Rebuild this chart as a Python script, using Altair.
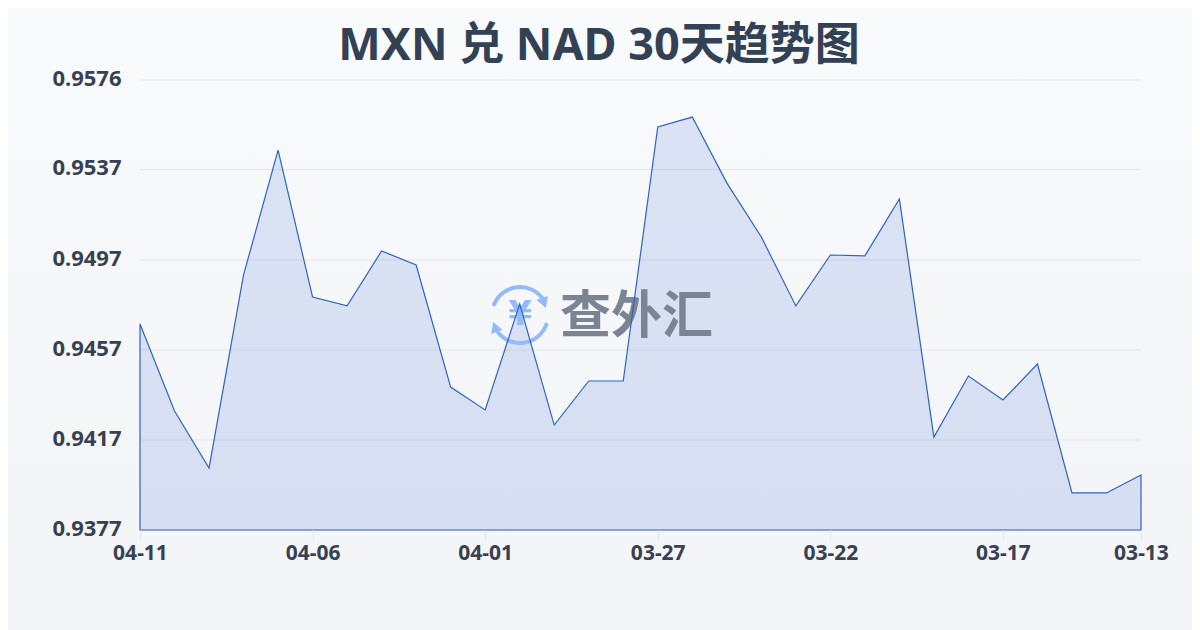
import altair as alt
import pandas as pd

dates = ["04-11","04-10","04-09","04-08","04-07","04-06","04-05","04-04","04-03","04-02",
         "04-01","03-31","03-30","03-29","03-28","03-27","03-26","03-25","03-24","03-23",
         "03-22","03-21","03-20","03-19","03-18","03-17","03-16","03-15","03-14","03-13"]
rates = [0.94684,0.94299,0.94047,0.94901,0.95453,0.94803,0.94764,0.95007,0.94945,0.94405,
         0.94304,0.94772,0.94237,0.94432,0.94432,0.95555,0.95599,0.95308,0.95069,0.94764,
         0.94989,0.94985,0.95237,0.94184,0.94454,0.94348,0.94507,0.93937,0.93937,0.94016]
y_ticks = [0.93773,0.94171,0.94569,0.94967,0.95367,0.95763]
x_ticks = ["04-11","04-06","04-01","03-27","03-22","03-17","03-13"]
title_text = "MXN 兑 NAD 30天趋势图"
brand_text = "查外汇"
yen_text = "¥"

FONT = "Noto Sans, Noto Sans CJK SC, sans-serif"
INK = "#374151"
W, H = 1001, 450
PAD = {"left": 132, "top": 72, "right": 51, "bottom": 100}
Y_SCALE = alt.Scale(domain=[y_ticks[0], y_ticks[-1]], nice=False, zero=False)

df = pd.DataFrame({"date": dates, "rate": rates, "base": [y_ticks[0]] * len(dates)})
one = pd.DataFrame({"k": [0]})
ticks_df = pd.DataFrame({"rate": y_ticks})

x_enc = alt.X("date:N", sort=dates, title=None,
              scale=alt.Scale(type="point", padding=0),
              axis=alt.Axis(values=x_ticks, labelAngle=0, labelFont=FONT, labelFontSize=21,
                            labelFontWeight="bold", labelColor=INK, labelPadding=2,
                            tickColor="#e5e7eb", tickSize=10, domain=False, grid=False, zindex=1))
y_enc = alt.Y("rate:Q", title=None, scale=Y_SCALE,
              axis=alt.Axis(values=y_ticks, format=".4f", labelFont=FONT, labelFontSize=22,
                            labelFontWeight="bold", labelColor=INK, labelPadding=19, ticks=False,
                            labelOffset=-2, domain=False, grid=False, zindex=1))

bg = alt.Chart(one).mark_rect(
    fill=alt.Gradient(gradient="linear", x1=0, x2=0, y1=0, y2=1,
                      stops=[alt.GradientStop(color="#f8fafc", offset=0),
                             alt.GradientStop(color="#f2f4f7", offset=1)])
).encode(x=alt.value(-132), x2=alt.value(1052), y=alt.value(-72), y2=alt.value(550))

grid = alt.Chart(ticks_df).mark_rule(color="#e5e7eb", strokeWidth=1).encode(
    y=y_enc, x=alt.value(0), x2=alt.value(W))

fill = alt.Chart(df).mark_area(color="#2a5fd0", opacity=0.14).encode(x=x_enc, y=y_enc, y2="base:Q")
outline = alt.Chart(df).mark_area(fill=None, fillOpacity=0, stroke="#2f62c4", strokeWidth=1.2).encode(
    x=x_enc, y=y_enc, y2="base:Q")

LOGO = "#93bbfb"
CX, CY = 380, 235
arc1 = alt.Chart(one).mark_arc(color=LOGO, radius=30, radius2=26, theta=-1.25 + 6.2832, theta2=1.0 + 6.2832,
                               cornerRadius=2).encode(x=alt.value(CX), y=alt.value(CY))
arc2 = alt.Chart(one).mark_arc(color=LOGO, radius=30, radius2=26, theta=1.85, theta2=4.15,
                               cornerRadius=2).encode(x=alt.value(CX), y=alt.value(CY))
head1 = alt.Chart(one).mark_point(shape="triangle-down", filled=True, color=LOGO, opacity=1, size=150, angle=340).encode(
    x=alt.value(404), y=alt.value(223))
head2 = alt.Chart(one).mark_point(shape="triangle-up", filled=True, color=LOGO, opacity=1, size=150, angle=340).encode(
    x=alt.value(355), y=alt.value(247))
yen = alt.Chart(one).mark_text(text=yen_text, font="DejaVu Sans", fontWeight="bold", fontSize=34, color=LOGO,
                               align="center", baseline="middle").encode(x=alt.value(CX), y=alt.value(CY))
brand = alt.Chart(one).mark_text(text=brand_text, font="Noto Sans CJK SC", fontWeight="bold", fontSize=51,
                                 color="#7b8494", align="left", baseline="middle").encode(x=alt.value(420), y=alt.value(238))
title = alt.Chart(one).mark_text(text=title_text, font=FONT, fontWeight="bold", fontSize=45, color="#334155",
                                 align="center", baseline="middle").encode(x=alt.value(459), y=alt.value(-34))

chart = alt.layer(bg, grid, fill, arc1, arc2, head1, head2, yen, brand, outline, title).properties(
    width=W, height=H, padding=PAD, autosize=alt.AutoSizeParams(type="none"),
    background="#f5f7fa",
).configure_view(stroke=None)

chart.save("out.html", embed_options={"renderer": "svg", "actions": False})
